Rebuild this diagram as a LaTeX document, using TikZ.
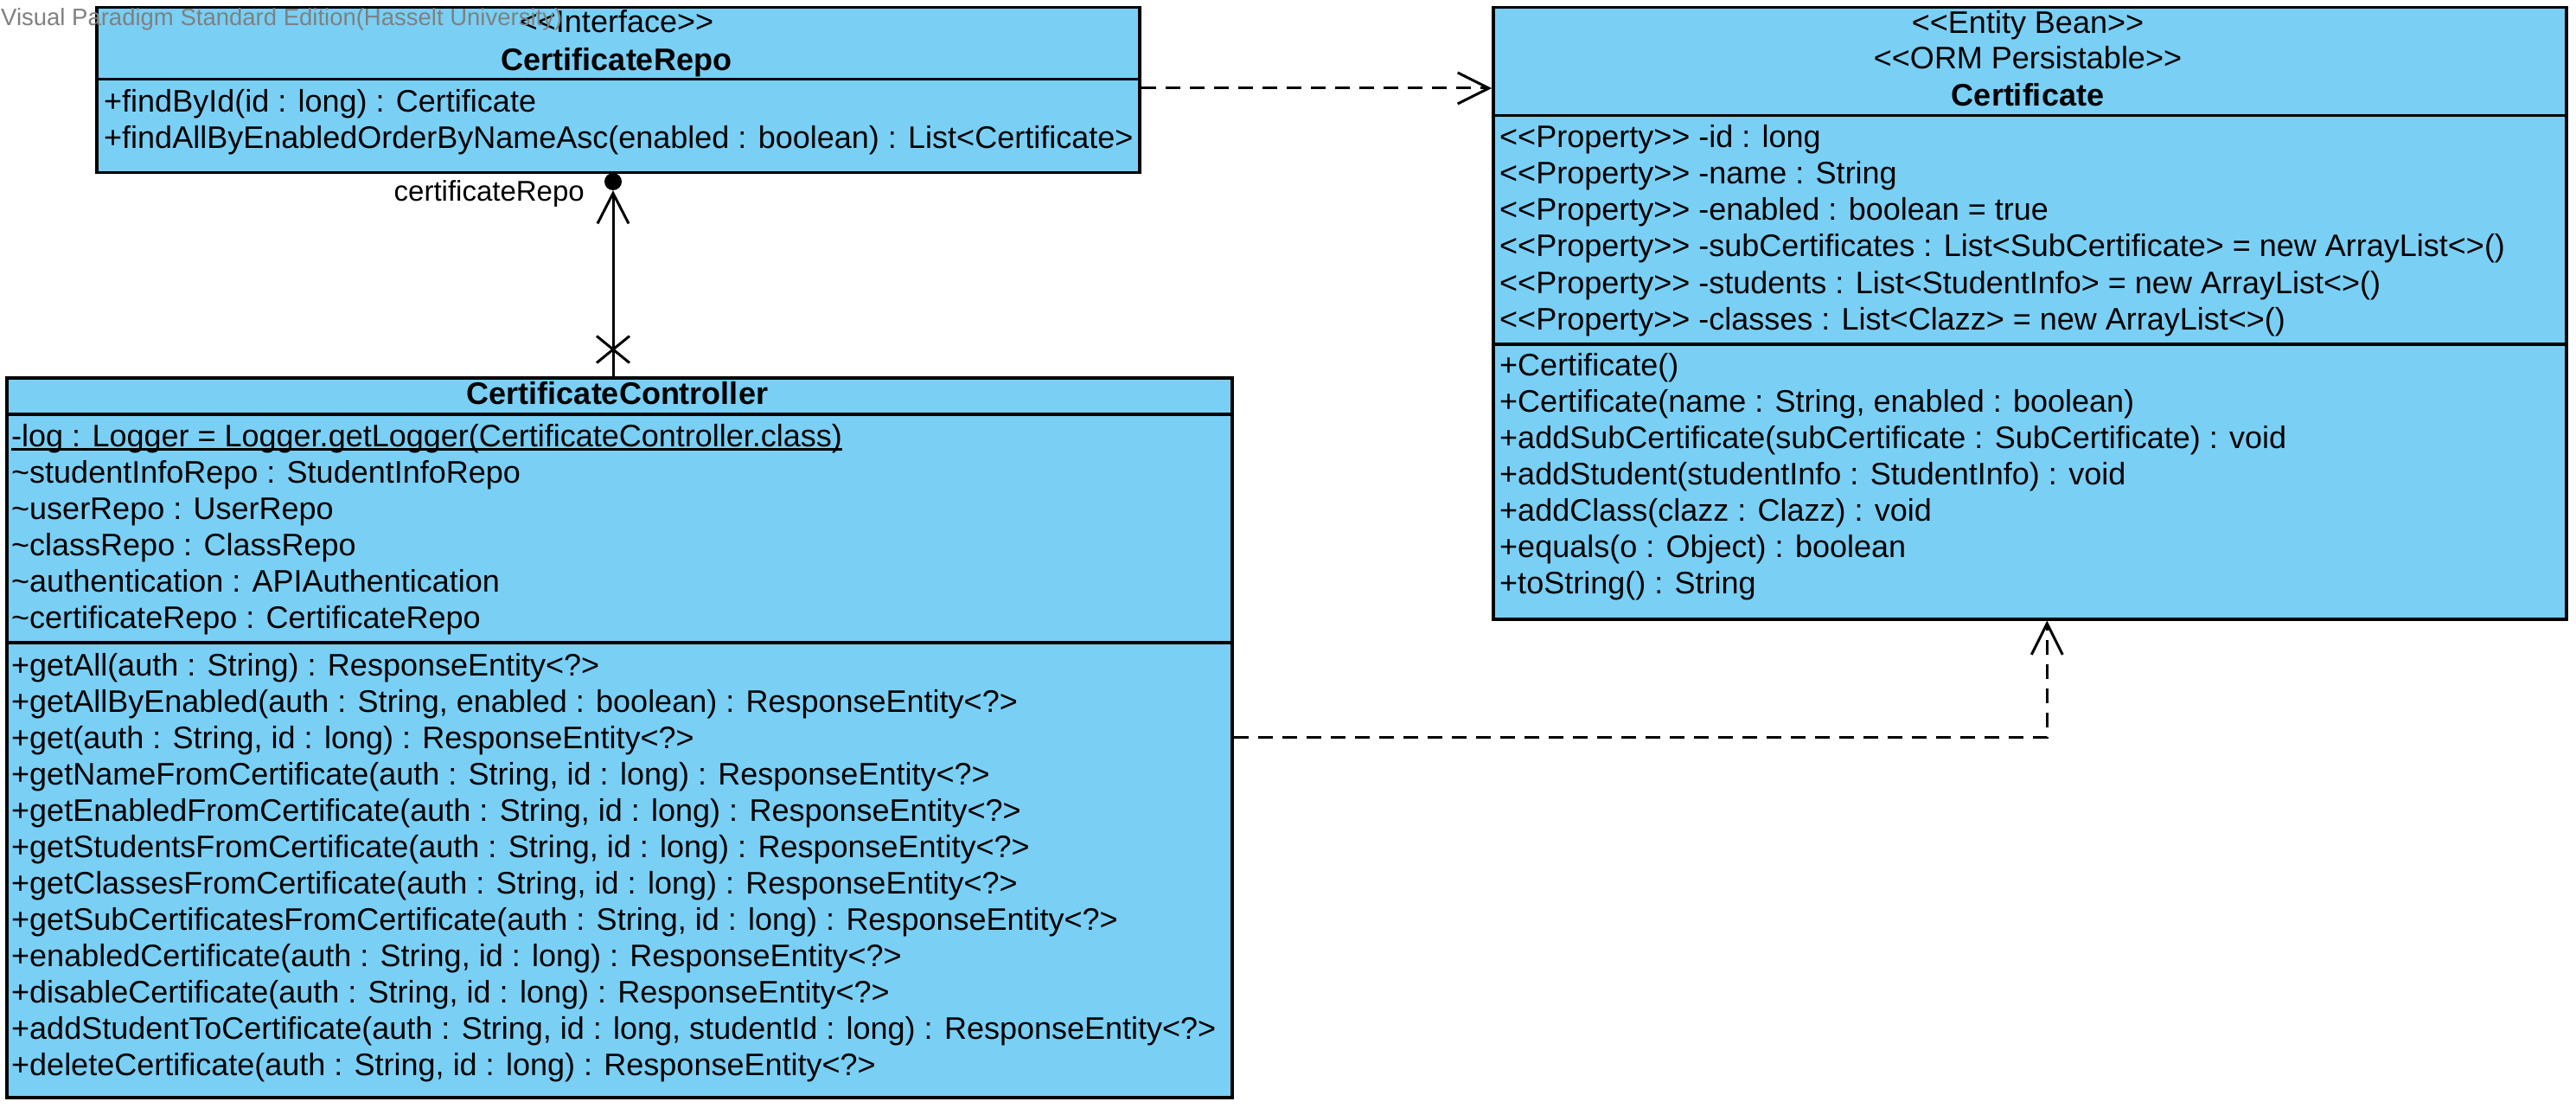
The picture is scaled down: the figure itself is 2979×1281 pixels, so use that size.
\documentclass[tikz,border=0pt]{standalone}
\usepackage{fontspec}
\setmainfont{Liberation Sans}[Ligatures=TeXOff]
\usetikzlibrary{arrows.meta, shapes.misc}
\definecolor{vpblue}{RGB}{122,207,245}
\newcommand\staticline[1]{\setbox0\hbox{#1}\rlap{\rule[-5pt]{\wd0}{3pt}}\box0}

\begin{document}
\begin{tikzpicture}[x=1pt, y=-1pt,
    cp/.style={draw, fill=vpblue, line width=3.5pt, anchor=north west, inner sep=0pt, minimum width=#1},
    ln/.style={anchor=base west, inner sep=0pt, font=\fontsize{36}{42}\selectfont},
    ttl/.style={anchor=base, inner sep=0pt, font=\fontsize{36}{42}\selectfont},
    ttlb/.style={ttl, font=\fontsize{36}{42}\selectfont\bfseries},
    dep/.style={line width=3pt, dash pattern=on 17pt off 11pt, -{Straight Barb[length=36pt, width=36pt]}}]
    \useasboundingbox (0,0) rectangle (2979,1281);

    \node[cp=1206pt, minimum height=83pt] (repoHead) at (110,7) {};
    \node[cp=1206pt, minimum height=108pt] (repoOps) at (110,90) {};
    \node[ttl] (repoSt) at (713,38) {<<Interface>>};
    \node[ttlb] (repoName) at (713,82) {CertificateRepo};
    \foreach \t [count=\i from 0] in {{+findById(id : long) : Certificate},
        {+findAllByEnabledOrderByNameAsc(enabled : boolean) : List<Certificate>}}
        \node[ln] (repoop\i) at (120, 130+42*\i) {\t};

    \node[cp=1241pt, minimum height=125pt] (certHead) at (1725,7) {};
    \node[cp=1241pt, minimum height=264pt] (certAttr) at (1725,132) {};
    \node[cp=1241pt, minimum height=318pt] (certOps) at (1725,396) {};
    \node[ttl] (certSt1) at (2345,39) {<<Entity Bean>>};
    \node[ttl] (certSt2) at (2345,80) {<<ORM Persistable>>};
    \node[ttlb] (certName) at (2345,123) {Certificate};
    \foreach \t [count=\i from 0] in {{<<Property>> -id : long},
        {<<Property>> -name : String},
        {<<Property>> -enabled : boolean = true},
        {<<Property>> -subCertificates : List<SubCertificate> = new ArrayList<>()},
        {<<Property>> -students : List<StudentInfo> = new ArrayList<>()},
        {<<Property>> -classes : List<Clazz> = new ArrayList<>()}}
        \node[ln] (certattr\i) at (1734, 171+42*\i) {\t};
    \foreach \t [count=\i from 0] in {{+Certificate()},
        {+Certificate(name : String, enabled : boolean)},
        {+addSubCertificate(subCertificate : SubCertificate) : void},
        {+addStudent(studentInfo : StudentInfo) : void},
        {+addClass(clazz : Clazz) : void},
        {+equals(o : Object) : boolean},
        {+toString() : String}}
        \node[ln] (certop\i) at (1734, 434+42*\i) {\t};

    \node[cp=1417pt, minimum height=42pt] (ctrlHead) at (6,435) {};
    \node[cp=1417pt, minimum height=264pt] (ctrlAttr) at (6,477) {};
    \node[cp=1417pt, minimum height=526pt] (ctrlOps) at (6,741) {};
    \node[ttlb] (ctrlName) at (714,467) {CertificateController};
    \foreach \t [count=\i from 0] in {{\staticline{-log : Logger = Logger.getLogger(CertificateController.class)}},
        {\textasciitilde studentInfoRepo : StudentInfoRepo},
        {\textasciitilde userRepo : UserRepo},
        {\textasciitilde classRepo : ClassRepo},
        {\textasciitilde authentication : APIAuthentication},
        {\textasciitilde certificateRepo : CertificateRepo}}
        \node[ln] (ctrlattr\i) at (13, 516+42*\i) {\t};
    \foreach \t [count=\i from 0] in {{+getAll(auth : String) : ResponseEntity<?>},
        {+getAllByEnabled(auth : String, enabled : boolean) : ResponseEntity<?>},
        {+get(auth : String, id : long) : ResponseEntity<?>},
        {+getNameFromCertificate(auth : String, id : long) : ResponseEntity<?>},
        {+getEnabledFromCertificate(auth : String, id : long) : ResponseEntity<?>},
        {+getStudentsFromCertificate(auth : String, id : long) : ResponseEntity<?>},
        {+getClassesFromCertificate(auth : String, id : long) : ResponseEntity<?>},
        {+getSubCertificatesFromCertificate(auth : String, id : long) : ResponseEntity<?>},
        {+enabledCertificate(auth : String, id : long) : ResponseEntity<?>},
        {+disableCertificate(auth : String, id : long) : ResponseEntity<?>},
        {+addStudentToCertificate(auth : String, id : long, studentId : long) : ResponseEntity<?>},
        {+deleteCertificate(auth : String, id : long) : ResponseEntity<?>}}
        \node[ln] (ctrlop\i) at (13, 781+42*\i) {\t};

    \node[circle, fill=black, minimum size=20pt, inner sep=0pt] (dot) at (709,210) {};
    \node[cross out, draw, line width=3pt, minimum width=35pt, minimum height=28pt, inner sep=0pt] (navx) at (709,404) {};
    \draw[line width=3pt, -{Straight Barb[length=35pt, width=36pt]}] (dot |- ctrlHead.north) -- (dot.south);
    \node[anchor=base east, inner sep=0pt, font=\fontsize{33}{40}\selectfont] (role) at (676,233) {certificateRepo};

    \draw[dep] ([yshift=-12pt]repoOps.north east) -- ([yshift=-12pt]repoOps.north east -| certHead.west);
    \draw[dep] ([yshift=-111pt]ctrlOps.north east) -| ([xshift=20pt]certOps.south);

    \node[anchor=base west, inner sep=0pt, text=gray, font=\fontsize{27.5}{33}\selectfont] (vpmark) at (1,30) {Visual Paradigm Standard Edition(Hasselt University)};
\end{tikzpicture}
\end{document}
